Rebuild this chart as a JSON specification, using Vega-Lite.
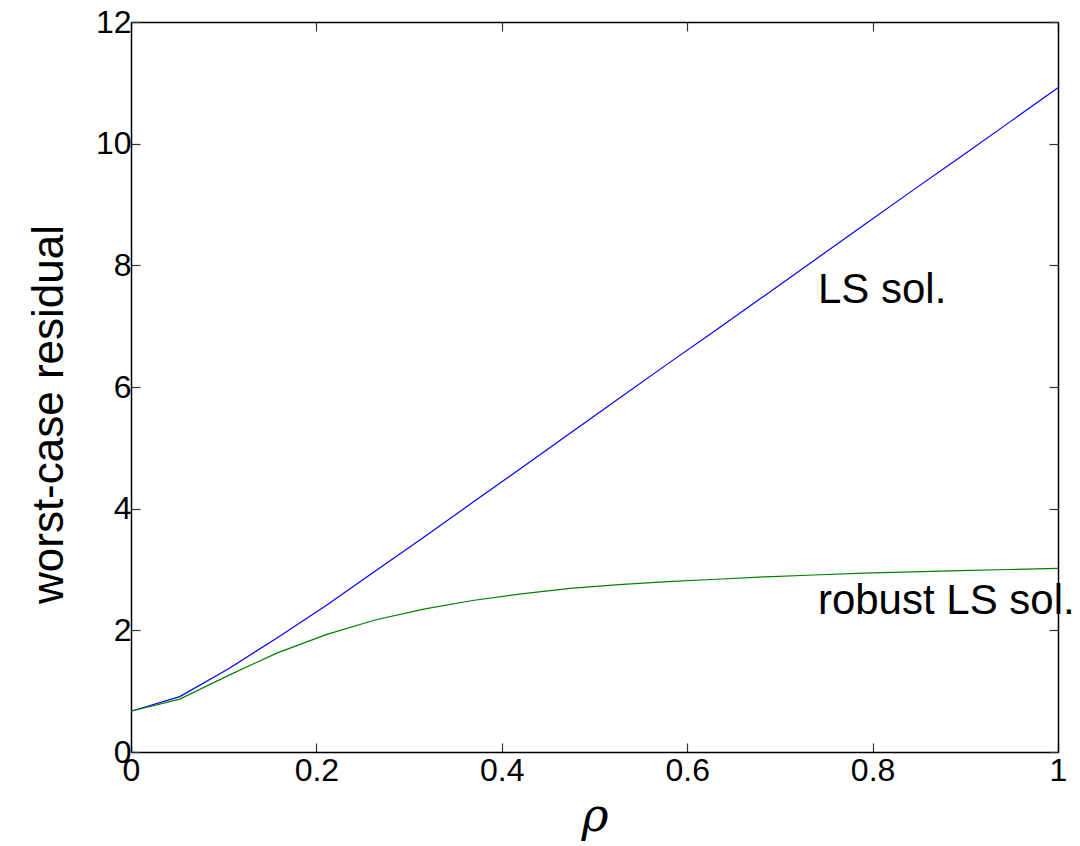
{
  "$schema": "https://vega.github.io/schema/vega-lite/v6.json",
  "width": 927,
  "height": 730,
  "autosize": {"type": "none"},
  "padding": {"left": 131, "top": 22, "right": 22, "bottom": 94},
  "background": "white",
  "config": {"view": {"stroke": null}, "font": "Liberation Sans"},
  "data": {"values": [
    {"series": "LS", "rho": 0.0, "residual": 0.67},
    {"series": "LS", "rho": 0.0526, "residual": 0.91},
    {"series": "LS", "rho": 0.1053, "residual": 1.37},
    {"series": "LS", "rho": 0.1579, "residual": 1.88},
    {"series": "LS", "rho": 0.2105, "residual": 2.41},
    {"series": "LS", "rho": 0.2632, "residual": 2.97},
    {"series": "LS", "rho": 0.3158, "residual": 3.53},
    {"series": "LS", "rho": 0.3684, "residual": 4.10},
    {"series": "LS", "rho": 0.4211, "residual": 4.67},
    {"series": "LS", "rho": 0.4737, "residual": 5.24},
    {"series": "LS", "rho": 0.5263, "residual": 5.81},
    {"series": "LS", "rho": 0.5789, "residual": 6.38},
    {"series": "LS", "rho": 0.6316, "residual": 6.94},
    {"series": "LS", "rho": 0.6842, "residual": 7.51},
    {"series": "LS", "rho": 0.7368, "residual": 8.08},
    {"series": "LS", "rho": 0.7895, "residual": 8.65},
    {"series": "LS", "rho": 0.8421, "residual": 9.22},
    {"series": "LS", "rho": 0.8947, "residual": 9.78},
    {"series": "LS", "rho": 0.9474, "residual": 10.35},
    {"series": "LS", "rho": 1.0, "residual": 10.92},
    {"series": "robust", "rho": 0.0, "residual": 0.67},
    {"series": "robust", "rho": 0.0526, "residual": 0.87},
    {"series": "robust", "rho": 0.1053, "residual": 1.26},
    {"series": "robust", "rho": 0.1579, "residual": 1.63},
    {"series": "robust", "rho": 0.2105, "residual": 1.93},
    {"series": "robust", "rho": 0.2632, "residual": 2.17},
    {"series": "robust", "rho": 0.3158, "residual": 2.35},
    {"series": "robust", "rho": 0.3684, "residual": 2.49},
    {"series": "robust", "rho": 0.4211, "residual": 2.60},
    {"series": "robust", "rho": 0.4737, "residual": 2.69},
    {"series": "robust", "rho": 0.5263, "residual": 2.75},
    {"series": "robust", "rho": 0.5789, "residual": 2.80},
    {"series": "robust", "rho": 0.6316, "residual": 2.84},
    {"series": "robust", "rho": 0.6842, "residual": 2.88},
    {"series": "robust", "rho": 0.7368, "residual": 2.91},
    {"series": "robust", "rho": 0.7895, "residual": 2.94},
    {"series": "robust", "rho": 0.8421, "residual": 2.96},
    {"series": "robust", "rho": 0.8947, "residual": 2.98},
    {"series": "robust", "rho": 0.9474, "residual": 3.00},
    {"series": "robust", "rho": 1.0, "residual": 3.02}
  ]},
  "layer": [
    {
      "mark": {"type": "line", "strokeWidth": 1.2},
      "encoding": {
        "x": {"field": "rho", "type": "quantitative", "scale": {"domain": [0, 1], "nice": false, "zero": false},
          "axis": {"orient": "bottom", "values": [0, 0.2, 0.4, 0.6, 0.8, 1], "format": "~g", "grid": false,
            "labelFontSize": 32, "labelColor": "black", "labelPadding": 12, "labelFont": "Liberation Sans", "labelFlush": false,
            "tickSize": -9, "tickColor": "#333333", "tickWidth": 1.2,
            "domainColor": "black", "domainWidth": 1.5,
            "title": "ρ", "titleFont": "DejaVu Serif", "titleFontStyle": "italic", "titleFontWeight": "normal",
            "titleFontSize": 46, "titleColor": "black", "titleBaseline": "alphabetic", "titleY": 78, "titleX": 463.5, "titleAlign": "center"}},
        "y": {"field": "residual", "type": "quantitative", "scale": {"domain": [0, 12], "nice": false, "zero": false},
          "axis": {"orient": "left", "values": [0, 2, 4, 6, 8, 10, 12], "grid": false,
            "labelFontSize": 32, "labelColor": "black", "labelPadding": 9, "labelFont": "Liberation Sans", "labelFlush": false,
            "tickSize": -9, "tickColor": "#333333", "tickWidth": 1.2,
            "domainColor": "black", "domainWidth": 1.5,
            "title": "worst-case residual", "titleFont": "Liberation Sans", "titleFontWeight": "normal",
            "titleFontSize": 44, "titleColor": "black", "titleBaseline": "alphabetic", "titleAngle": -90,
            "titleX": -69, "titleY": 392, "titleAlign": "center"}},
        "color": {"field": "series", "type": "nominal", "scale": {"domain": ["LS", "robust"], "range": ["#0000ff", "#008000"]}, "legend": null}
      }
    },
    {
      "mark": {"type": "line", "opacity": 0},
      "encoding": {
        "x": {"field": "rho", "type": "quantitative", "scale": {"domain": [0, 1], "nice": false, "zero": false},
          "axis": {"orient": "top", "values": [0, 0.2, 0.4, 0.6, 0.8, 1], "labels": false, "title": null, "grid": false,
            "tickSize": -9, "tickColor": "#333333", "tickWidth": 1.2, "domainColor": "black", "domainWidth": 1.5}},
        "y": {"field": "residual", "type": "quantitative", "scale": {"domain": [0, 12], "nice": false, "zero": false},
          "axis": {"orient": "right", "values": [0, 2, 4, 6, 8, 10, 12], "labels": false, "title": null, "grid": false,
            "tickSize": -9, "tickColor": "#333333", "tickWidth": 1.2, "domainColor": "black", "domainWidth": 1.5}},
        "detail": {"field": "series", "type": "nominal"}
      }
    },
    {
      "data": {"values": [{}]},
      "mark": {"type": "text", "text": "LS sol.", "align": "left", "baseline": "alphabetic", "fontSize": 42, "font": "Liberation Sans", "color": "black"},
      "encoding": {
        "x": {"datum": 0.741, "type": "quantitative", "axis": null},
        "y": {"datum": 7.38, "type": "quantitative", "axis": null}
      }
    },
    {
      "data": {"values": [{}]},
      "mark": {"type": "text", "text": "robust LS sol.", "align": "left", "baseline": "alphabetic", "fontSize": 42, "font": "Liberation Sans", "color": "black"},
      "encoding": {
        "x": {"datum": 0.741, "type": "quantitative", "axis": null},
        "y": {"datum": 2.27, "type": "quantitative", "axis": null}
      }
    }
  ],
  "resolve": {"axis": {"x": "independent", "y": "independent"}}
}
